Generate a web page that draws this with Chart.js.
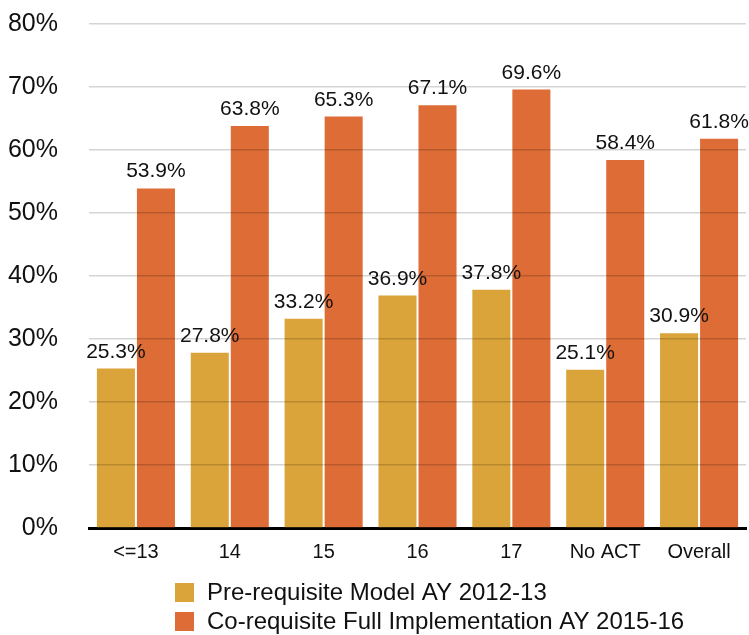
<!DOCTYPE html>
<html>
<head>
<meta charset="utf-8">
<script src="https://cdn.jsdelivr.net/npm/chart.js@4/dist/chart.umd.min.js"></script>
<style>
  html, body { margin: 0; padding: 0; background: #fff; }
  #wrap { width: 749px; height: 635px; }
</style>
</head>
<body>
<div id="wrap"><canvas id="chartGrades"></canvas></div>
<script>
var categories = ["<=13", "14", "15", "16", "17", "No ACT", "Overall"];
var preValues = [25.3, 27.8, 33.2, 36.9, 37.8, 25.1, 30.9];
var coValues = [53.9, 63.8, 65.3, 67.1, 69.6, 58.4, 61.8];
var seriesNames = ["Pre-requisite Model AY 2012-13", "Co-requisite Full Implementation AY 2015-16"];
var yTicks = [0, 10, 20, 30, 40, 50, 60, 70, 80];

var gold = '#dba43a';
var orange = '#dd6c37';
var fontFam = '"Liberation Sans", Arial, Helvetica, sans-serif';

// value labels above each bar
var barLabels = {
	id: 'barLabels',
	afterDraw: function(chart) {
		var ctx = chart.ctx;
		ctx.save();
		ctx.font = '21px ' + fontFam;
		ctx.fillStyle = '#111';
		ctx.textAlign = 'center';
		ctx.textBaseline = 'alphabetic';
		chart.data.datasets.forEach(function(ds, i) {
			var meta = chart.getDatasetMeta(i);
			meta.data.forEach(function(bar, j) {
				ctx.fillText(ds.data[j].toFixed(1) + '%', bar.x, bar.y - 11);
			});
		});
		ctx.restore();
	}
};

// legend stacked and left aligned under the axis
var stackedLegend = {
	id: 'stackedLegend',
	afterDraw: function(chart) {
		var ctx = chart.ctx;
		ctx.save();
		ctx.font = '24px ' + fontFam;
		ctx.textBaseline = 'middle';
		ctx.textAlign = 'left';
		chart.data.datasets.forEach(function(ds, i) {
			var y = 592.5 + i * 29;
			ctx.fillStyle = ds.backgroundColor;
			ctx.fillRect(175, y - 9.5, 19, 19);
			ctx.fillStyle = '#111';
			ctx.fillText(ds.label, 207, y + 1);
		});
		ctx.restore();
	}
};

var ctx = document.getElementById('chartGrades').getContext('2d');
var barGraph = new Chart(ctx, {
	type: 'bar',
	data: {
		labels: categories,
		datasets: [
			{ label: seriesNames[0], data: preValues, backgroundColor: gold },
			{ label: seriesNames[1], data: coValues, backgroundColor: orange }
		]
	},
	options: {
		responsive: true,
		maintainAspectRatio: false,
		animation: false,
		categoryPercentage: 0.853,
		barPercentage: 0.95,
		layout: { padding: { top: 5, right: 3, bottom: 67, left: 0 } },
		plugins: {
			legend: { display: false },
			tooltip: { enabled: false }
		},
		scales: {
			x: {
				grid: { display: false },
				border: { display: true, color: '#000', width: 3 },
				ticks: { color: '#111', font: { family: fontFam, size: 20 }, padding: 4 }
			},
			y: {
				min: 0,
				max: 80,
				afterFit: function(scale) { scale.width = 89; },
				afterBuildTicks: function(scale) {
					scale.ticks = yTicks.map(function(v) { return { value: v }; });
				},
				grid: {
					color: 'rgba(0,0,0,0.17)',
					lineWidth: 1.5,
					drawTicks: true,
					tickLength: 22,
					tickColor: 'rgba(0,0,0,0)',
					z: 1
				},
				border: { display: false },
				ticks: {
					color: '#111',
					padding: 9,
					font: { family: fontFam, size: 25 },
					callback: function(v) { return v + '%'; }
				}
			}
		}
	},
	plugins: [barLabels, stackedLegend]
});
</script>
</body>
</html>
